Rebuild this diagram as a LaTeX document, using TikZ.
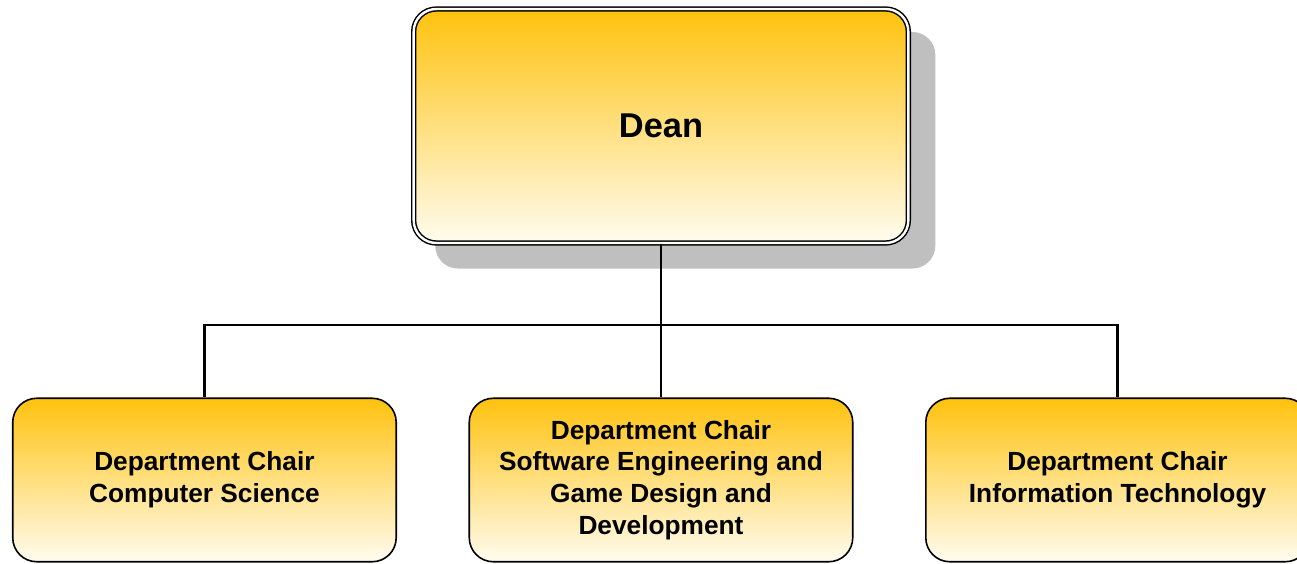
\documentclass[tikz,border=0pt]{standalone}
\usepackage{fontspec}
\setmainfont{Liberation Sans}
\usetikzlibrary{positioning, shadows}

\definecolor{boxTop}{RGB}{255,194,14}
\definecolor{boxBottom}{RGB}{255,252,240}

\begin{document}
\begin{tikzpicture}[x=0.75pt, y=-0.75pt, on grid, auto,
  chair/.style={draw, line width=1.2pt, rounded corners=18pt, top color=boxTop, bottom color=boxBottom,
    minimum width=287.6pt, minimum height=122.6pt, inner sep=0pt, align=center,
    font=\bfseries\fontsize{19.7}{23.8}\selectfont},
  head/.style={draw, double=white, double distance=1.8pt, line width=1.1pt, rounded corners=17pt,
    top color=boxTop, bottom color=boxBottom,
    drop shadow={shadow xshift=18pt, shadow yshift=-18pt, shadow scale=1.011, fill=black!25, opacity=1},
    minimum width=371pt, minimum height=175.5pt, inner sep=0pt,
    font=\bfseries\fontsize{25.8}{30}\selectfont},
  link/.style={line width=1.6pt}]
  \clip (0,0) rectangle (1297,564);
  \useasboundingbox (0,0) rectangle (1297,564);

  \node[head] (dean) at (661,126) {Dean};
  \node[chair] (seChair) [below=265.5pt of dean] {Department Chair\\Software Engineering and\\Game Design and\\Development};
  \node[chair] (csChair) [left=342.4pt of seChair] {Department Chair\\Computer Science};
  \node[chair] (itChair) [right=342.4pt of seChair] {Department Chair\\Information Technology};

  \coordinate (bus) at (661,325);
  \draw[link] (dean.south) -- (bus);
  \draw[link] (bus) -| (csChair.north);
  \draw[link] (bus) -- (seChair.north);
  \draw[link] (bus) -| (itChair.north);
\end{tikzpicture}
\end{document}
